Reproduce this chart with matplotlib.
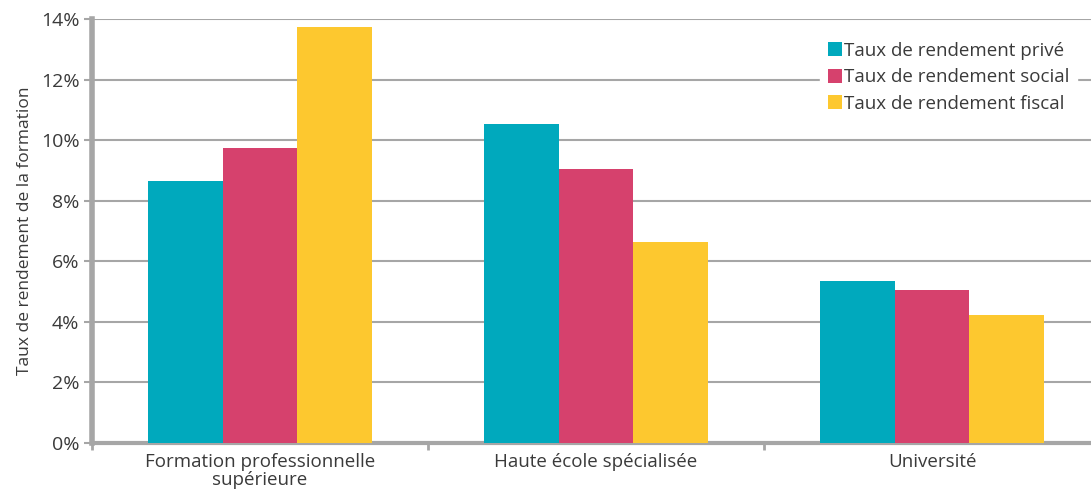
import numpy as np
import matplotlib
matplotlib.use("Agg")
from matplotlib import pyplot as plt

categories = ["Formation professionnelle\nsupérieure", "Haute école spécialisée", "Université"]
series_names = ["Taux de rendement privé", "Taux de rendement social", "Taux de rendement fiscal"]
prive = [8.65, 10.53, 5.35]
social = [9.74, 9.04, 5.05]
fiscal = [13.73, 6.63, 4.22]
yticks = [0, 2, 4, 6, 8, 10, 12, 14]
colors = ["#00A9BD", "#D6416D", "#FDC82F"]

plt.rcParams["font.family"] = ["Open Sans", "DejaVu Sans"]
fig = plt.figure(figsize=(10.91, 4.90), dpi=100)
ax = fig.add_axes([92/1091, 1 - 443/490, 1008/1091, 424/490])

x = np.arange(len(categories))
w = 0.222
for i, (vals, name) in enumerate(zip([prive, social, fiscal], series_names)):
    ax.bar(x + (i - 1) * w, vals, width=w, color=colors[i], label=name, zorder=3)

ax.set_xlim(-0.5, 2.5)
ax.set_ylim(0, 14)
ax.set_yticks(yticks)
ax.set_yticklabels([f"{t}%" for t in yticks], fontsize=14, color="#3a3a3a")
ax.set_xticks(x)
ax.set_xticklabels(categories, fontsize=13.5, color="#3a3a3a", linespacing=1.0)
ax.tick_params(axis="x", length=0, pad=7)
ax.set_xticks([-0.5, 0.5, 1.5, 2.5], minor=True)
ax.tick_params(axis="x", which="minor", length=5, width=2, color="#A6A6A6")
ax.tick_params(axis="y", length=6, width=1.5, color="#A6A6A6", pad=3)
ax.grid(axis="y", color="#A6A6A6", linewidth=1.5, zorder=0)
for s in ["top", "right"]:
    ax.spines[s].set_visible(False)
ax.spines["left"].set_color("#A6A6A6")
ax.spines["left"].set_linewidth(4)
ax.spines["bottom"].set_color("#A6A6A6")
ax.spines["bottom"].set_linewidth(3)
ax.set_ylabel("Taux de rendement de la formation", fontsize=12.5, color="#3a3a3a", labelpad=6)

leg = ax.legend(loc="upper left", bbox_to_anchor=(719/1008, 1 - 6/424), frameon=True,
                fontsize=13.5, handlelength=0.75, handleheight=0.75, handletextpad=0.1,
                borderpad=0.4, labelspacing=0.45, fancybox=False)
leg.get_frame().set_edgecolor("white")
leg.get_frame().set_facecolor("white")
leg.get_frame().set_alpha(1)
for t in leg.get_texts():
    t.set_color("#3a3a3a")

fig.savefig("out.png", dpi=100)
